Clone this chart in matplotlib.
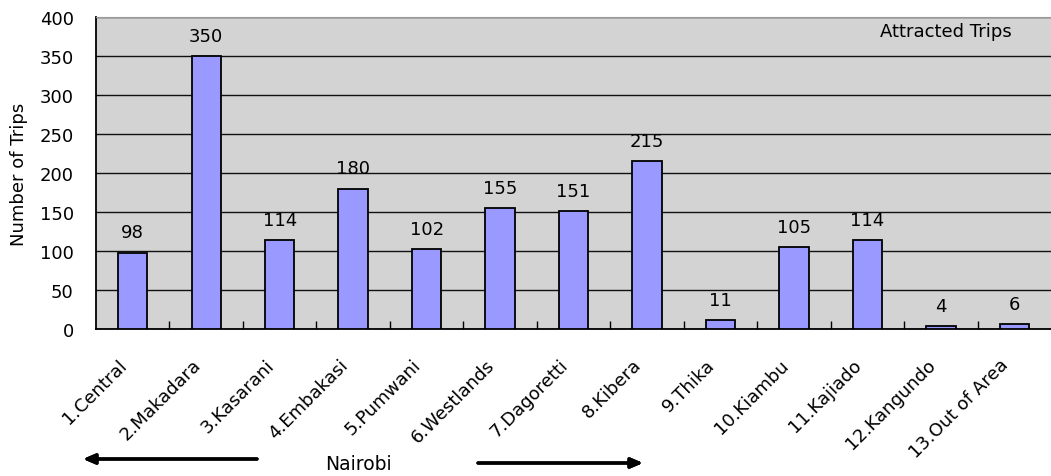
import matplotlib.pyplot as plt
from matplotlib.ticker import MultipleLocator, FixedLocator
from matplotlib.transforms import ScaledTranslation
import numpy as np

plt.rcParams['font.family'] = ['DejaVu Sans']

# data
zones = ["1.Central", "2.Makadara", "3.Kasarani", "4.Embakasi", "5.Pumwani",
         "6.Westlands", "7.Dagoretti", "8.Kibera", "9.Thika", "10.Kiambu",
         "11.Kajiado", "12.Kangundo", "13.Out of Area"]
trips = [98, 350, 114, 180, 102, 155, 151, 215, 11, 105, 114, 4, 6]

fig = plt.figure(figsize=(10.51, 4.77), dpi=100)
ax = fig.add_axes([96 / 1051, 1 - 330 / 477, 955 / 1051, 312 / 477])

x = np.arange(len(zones))
ax.bar(x, trips, width=0.4, color="#9999FF", edgecolor="black",
       linewidth=1.3, zorder=3)

# value labels above bars
for xi, v in zip(x, trips):
    ax.annotate(str(v), (xi, v), xytext=(0, 8), textcoords="offset points",
                ha="center", va="bottom", fontsize=13)

ax.set_xlim(-0.5, len(zones) - 0.5)
ax.set_ylim(0, 400)
ax.set_facecolor("#D3D3D3")
ax.yaxis.set_major_locator(MultipleLocator(50))
ax.grid(axis="y", color="#111111", linewidth=1.0, zorder=0)
ax.set_axisbelow(True)

ax.set_xticks(x)
ax.set_xticklabels(zones, rotation=45, ha="right", va="top", fontsize=13)
ax.tick_params(axis="x", which="major", length=0, pad=19)
shift = ScaledTranslation(-2 / 100, 0, fig.dpi_scale_trans)
for lab in ax.get_xticklabels():
    lab.set_transform(lab.get_transform() + shift)
ax.xaxis.set_minor_locator(FixedLocator(np.arange(0.5, len(zones) - 0.5, 1)))
ax.tick_params(axis="x", which="minor", direction="in", length=6, width=1)
ax.tick_params(axis="y", length=0, labelsize=13, pad=16)

ax.set_ylabel("Number of Trips", fontsize=13, labelpad=8)

ax.spines["top"].set_color("#999999")
ax.spines["right"].set_visible(False)
ax.spines["bottom"].set_linewidth(1.3)
ax.spines["left"].set_linewidth(1.3)

fig.text(946 / 1051, 1 - 32 / 477, "Attracted Trips", ha="center",
         va="center", fontsize=13)

# Nairobi arrows under the axis
fig.text(358 / 1051, 1 - 465 / 477, "Nairobi", ha="center", va="center",
         fontsize=13.5)
arrow = dict(arrowstyle="-|>,head_width=0.3,head_length=0.7", color="black",
             linewidth=2.4, shrinkA=0, shrinkB=0)
fig.add_artist(plt.annotate("", xy=(83 / 1051, 1 - 460 / 477),
                            xytext=(257 / 1051, 1 - 460 / 477),
                            xycoords="figure fraction", arrowprops=arrow))
fig.add_artist(plt.annotate("", xy=(643 / 1051, 1 - 464 / 477),
                            xytext=(478 / 1051, 1 - 464 / 477),
                            xycoords="figure fraction", arrowprops=arrow))

plt.savefig("out.png", dpi=100)
